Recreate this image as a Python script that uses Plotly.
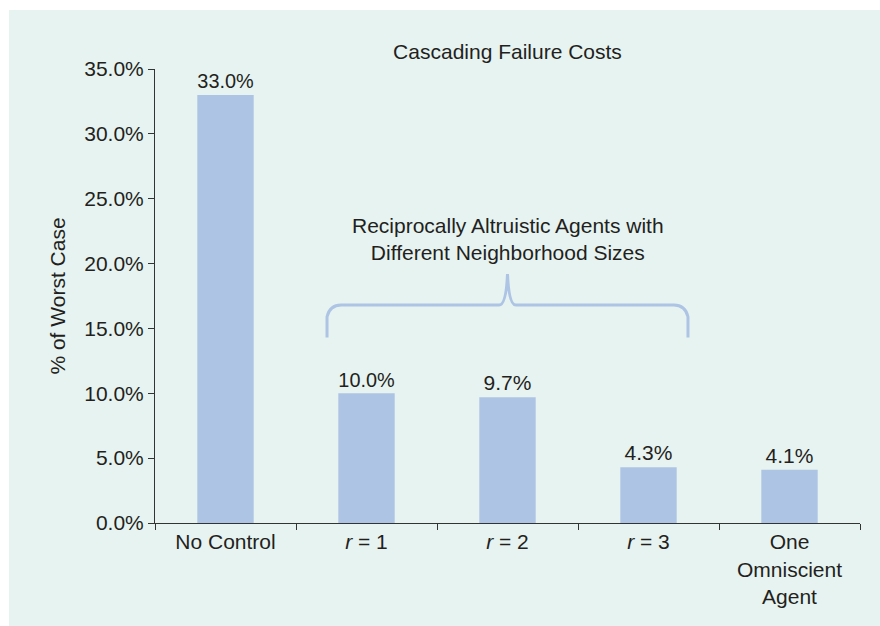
"""Cascading failure costs bar chart."""

import plotly.graph_objects as go


# Chart data
categories = ["No Control", "<i>r</i> = 1", "<i>r</i> = 2", "<i>r</i> = 3", "One<br>Omniscient<br>Agent"]
pct_worst_case = [33.0, 10.0, 9.7, 4.3, 4.1]
bar_labels = ["33.0%", "10.0%", "9.7%", "4.3%", "4.1%"]
y_ticks = [0, 5, 10, 15, 20, 25, 30, 35]
y_tick_labels = ["0.0%", "5.0%", "10.0%", "15.0%", "20.0%", "25.0%", "30.0%", "35.0%"]

BAR_COLOR = "#aec4e4"
BG_COLOR = "#e7f3f1"
TEXT_COLOR = "#231f20"
AXIS_COLOR = "#333333"
FONT = "Liberation Sans, Arial, sans-serif"
FS = 21

W, H = 880, 626
L, R, T, B = 155, 20, 69, 103
PW, PH = W - L - R, H - T - B

fig = go.Figure()

fig.add_trace(
    go.Bar(
        x=categories,
        y=pct_worst_case,
        marker=dict(color=BAR_COLOR, line=dict(width=0)),
        text=bar_labels,
        textposition="outside",
        cliponaxis=False,
        textfont=dict(size=FS, color=TEXT_COLOR, family=FONT),
        width=0.4,
    )
)

# White strips along the top and left edge of the mint panel
fig.add_shape(
    type="rect", xref="paper", yref="paper",
    x0=-L / PW - 0.05, x1=-(L - 9) / PW, y0=-B / PH - 0.05, y1=1 + T / PH + 0.05,
    fillcolor="white", line=dict(width=0), layer="below",
)
fig.add_shape(
    type="rect", xref="paper", yref="paper",
    x0=-L / PW - 0.05, x1=1 + R / PW + 0.05, y0=1 + (T - 10) / PH, y1=1 + T / PH + 0.05,
    fillcolor="white", line=dict(width=0), layer="below",
)

# Curly brace over the neighbourhood-size bars
brace = (
    "M 0.72,14.3 L 0.72,15.9 Q 0.74,16.8 0.82,16.8 "
    "L 1.94,16.8 Q 1.99,16.8 2.0,19.2 "
    "Q 2.01,16.8 2.06,16.8 L 3.18,16.8 "
    "Q 3.26,16.8 3.28,15.9 L 3.28,14.3"
)
fig.add_shape(
    type="path", xref="x", yref="y", path=brace,
    line=dict(color=BAR_COLOR, width=3),
)

fig.add_annotation(
    x=2, y=21.9, xref="x", yref="y",
    text="Reciprocally Altruistic Agents with<br>Different Neighborhood Sizes",
    showarrow=False, yanchor="middle",
    font=dict(size=FS, color=TEXT_COLOR, family=FONT),
)

fig.update_layout(
    width=W,
    height=H,
    paper_bgcolor=BG_COLOR,
    plot_bgcolor=BG_COLOR,
    margin=dict(l=L, r=R, t=T, b=B),
    showlegend=False,
    font=dict(family=FONT, color=TEXT_COLOR, size=FS),
    title=dict(
        text="Cascading Failure Costs",
        x=0.5, xref="paper", xanchor="center",
        y=1 - 52 / H, yanchor="middle",
        font=dict(size=FS, color=TEXT_COLOR, family=FONT),
    ),
    xaxis=dict(
        showgrid=False,
        showline=True,
        linecolor=AXIS_COLOR,
        linewidth=1,
        ticks="outside",
        ticklen=6,
        tickcolor=AXIS_COLOR,
        tickson="boundaries",
        tickfont=dict(size=FS, color=TEXT_COLOR, family=FONT),
    ),
    yaxis=dict(
        range=[0, 35],
        tickvals=y_ticks,
        ticktext=y_tick_labels,
        showgrid=False,
        zeroline=False,
        showline=True,
        linecolor=AXIS_COLOR,
        linewidth=1,
        ticks="outside",
        ticklen=6,
        tickcolor=AXIS_COLOR,
        tickfont=dict(size=FS, color=TEXT_COLOR, family=FONT),
        title=dict(text="% of Worst Case", standoff=12,
                   font=dict(size=FS, color=TEXT_COLOR, family=FONT)),
    ),
)

# drop the default body margin so the figure fills the window
fig.write_html(
    "out.html",
    config={"displayModeBar": False},
    post_script="document.body.style.margin='0';",
)
